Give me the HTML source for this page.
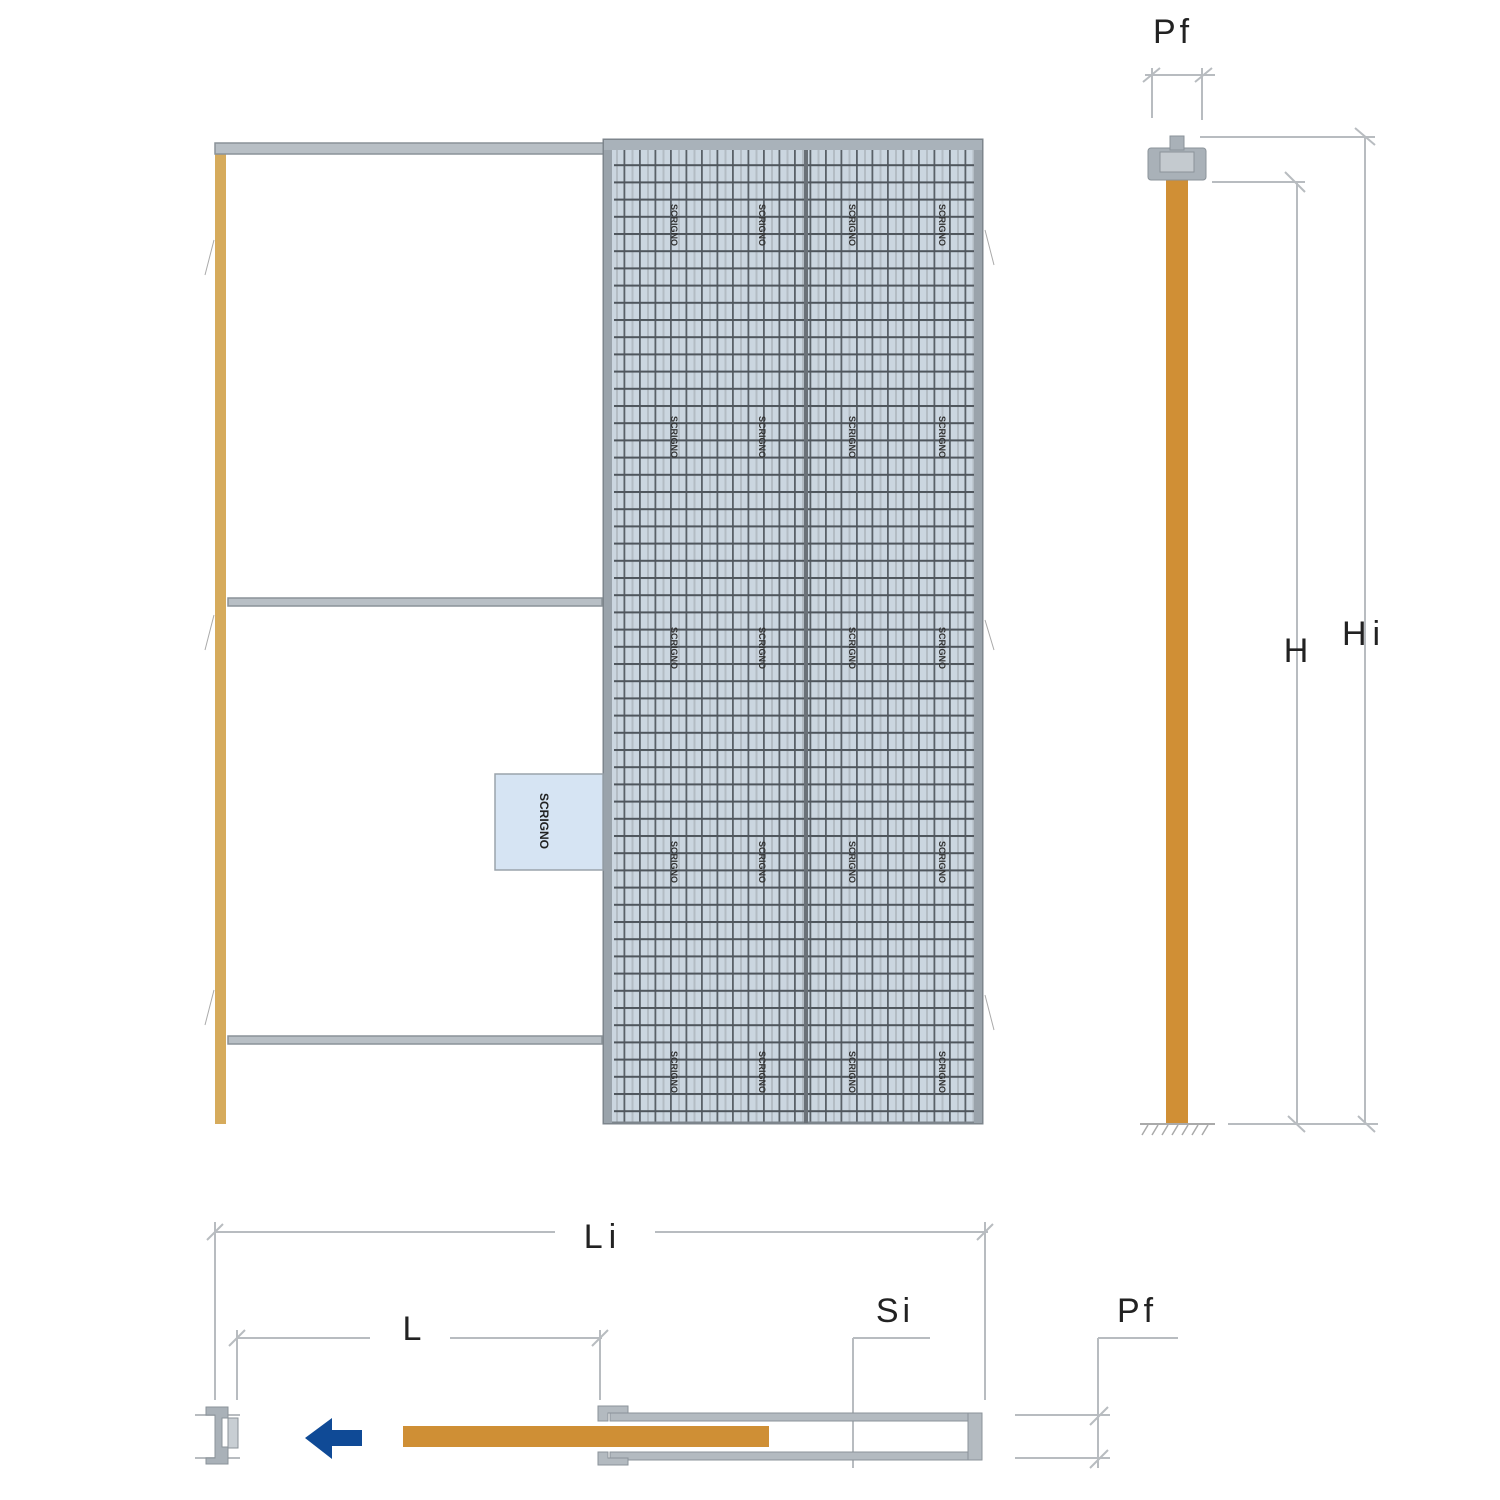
<!DOCTYPE html>
<html><head><style>html,body{margin:0;padding:0;background:#fff}svg{display:block}</style></head>
<body>
<svg width="1500" height="1500" viewBox="0 0 1500 1500" xmlns="http://www.w3.org/2000/svg" font-family="Liberation Sans, sans-serif">
<defs>
<pattern id="h" x="0" y="147" width="20" height="17.2" patternUnits="userSpaceOnUse">
<rect x="0" y="0" width="20" height="2" fill="#4f565d"/>
</pattern>
<pattern id="v" x="608" y="0" width="15.5" height="20" patternUnits="userSpaceOnUse">
<rect x="0" y="0" width="1.8" height="20" fill="#5a6168"/>
<rect x="8" y="0" width="2" height="20" fill="#b3bcc4"/>
</pattern>
</defs>
<rect x="215" y="150" width="11" height="974" fill="#d6ab5c"/>
<rect x="215" y="143" width="395" height="11" fill="#b8bfc5" stroke="#8a9298" stroke-width="1.5"/>
<rect x="228" y="598" width="374" height="8" fill="#b8bfc5" stroke="#8a9298" stroke-width="1.5"/>
<rect x="228" y="1036" width="374" height="8" fill="#b8bfc5" stroke="#8a9298" stroke-width="1.5"/>
<rect x="604" y="140" width="378" height="983" fill="#cbd6e0"/>
<rect x="604" y="140" width="378" height="983" fill="url(#v)"/>
<rect x="614" y="140" width="360" height="983" fill="url(#h)"/>
<rect x="604" y="140" width="378" height="983" fill="none" stroke="#7d858c" stroke-width="3"/>
<rect x="804" y="140" width="4" height="983" fill="#6a7178"/>
<rect x="604" y="140" width="8" height="983" fill="#9aa3ab"/>
<rect x="974" y="140" width="8" height="983" fill="#9aa3ab"/>
<rect x="604" y="140" width="378" height="10" fill="#a9b2ba"/>
<g fill="#333" font-size="9" font-weight="bold">
<g transform="translate(671,225) rotate(90)"><text text-anchor="middle">SCRIGNO</text></g>
<g transform="translate(759,225) rotate(90)"><text text-anchor="middle">SCRIGNO</text></g>
<g transform="translate(849,225) rotate(90)"><text text-anchor="middle">SCRIGNO</text></g>
<g transform="translate(939,225) rotate(90)"><text text-anchor="middle">SCRIGNO</text></g>
<g transform="translate(671,437) rotate(90)"><text text-anchor="middle">SCRIGNO</text></g>
<g transform="translate(759,437) rotate(90)"><text text-anchor="middle">SCRIGNO</text></g>
<g transform="translate(849,437) rotate(90)"><text text-anchor="middle">SCRIGNO</text></g>
<g transform="translate(939,437) rotate(90)"><text text-anchor="middle">SCRIGNO</text></g>
<g transform="translate(671,648) rotate(90)"><text text-anchor="middle">SCRIGNO</text></g>
<g transform="translate(759,648) rotate(90)"><text text-anchor="middle">SCRIGNO</text></g>
<g transform="translate(849,648) rotate(90)"><text text-anchor="middle">SCRIGNO</text></g>
<g transform="translate(939,648) rotate(90)"><text text-anchor="middle">SCRIGNO</text></g>
<g transform="translate(671,862) rotate(90)"><text text-anchor="middle">SCRIGNO</text></g>
<g transform="translate(759,862) rotate(90)"><text text-anchor="middle">SCRIGNO</text></g>
<g transform="translate(849,862) rotate(90)"><text text-anchor="middle">SCRIGNO</text></g>
<g transform="translate(939,862) rotate(90)"><text text-anchor="middle">SCRIGNO</text></g>
<g transform="translate(671,1072) rotate(90)"><text text-anchor="middle">SCRIGNO</text></g>
<g transform="translate(759,1072) rotate(90)"><text text-anchor="middle">SCRIGNO</text></g>
<g transform="translate(849,1072) rotate(90)"><text text-anchor="middle">SCRIGNO</text></g>
<g transform="translate(939,1072) rotate(90)"><text text-anchor="middle">SCRIGNO</text></g>
</g>
<rect x="495" y="774" width="108" height="96" fill="#d6e4f3" stroke="#9aa3ab" stroke-width="1.5"/>
<g transform="translate(540,821) rotate(90)"><text text-anchor="middle" font-size="12" font-weight="bold" fill="#222">SCRIGNO</text></g>
<g stroke="#aaa" stroke-width="1" fill="none">
<path d="M205 275 L214 240 M205 650 L214 615 M205 1025 L214 990 M985 230 L994 265 M985 620 L994 650 M985 995 L994 1030"/>
</g>
<g stroke="#b8bcc0" stroke-width="2" fill="none">
<path d="M1152 68 V118 M1202 68 V120 M1145 75 L1215 75 M1143 82 L1160 68 M1195 82 L1212 68"/>
<path d="M1200 137 H1375 M1365 137 V1125 M1355 128 L1375 145"/>
<path d="M1212 182 H1305 M1297 182 V1125 M1285 172 L1305 192"/>
<path d="M1228 1124 H1378 M1288 1116 L1305 1132 M1358 1116 L1375 1132"/>
</g>
<rect x="1166" y="175" width="22" height="948" fill="#d08f35"/>
<g fill="#a9b1b8" stroke="#8b939a" stroke-width="1">
<rect x="1148" y="148" width="58" height="32" rx="3"/>
<rect x="1170" y="136" width="14" height="14"/>
<rect x="1160" y="152" width="34" height="20" fill="#c4cacf"/>
</g>
<path d="M1140 1124 H1215" stroke="#aaa" stroke-width="2"/>
<path d="M1142 1135 l6 -10 M1152 1135 l6 -10 M1162 1135 l6 -10 M1172 1135 l6 -10 M1182 1135 l6 -10 M1192 1135 l6 -10 M1202 1135 l6 -10" stroke="#aaa" stroke-width="1.5"/>
<text x="1173" y="43" font-size="34" text-anchor="middle" fill="#222" letter-spacing="4">Pf</text>
<text x="1296" y="662" font-size="34" text-anchor="middle" fill="#222">H</text>
<text x="1364" y="645" font-size="34" text-anchor="middle" fill="#222" letter-spacing="6">Hi</text>
<g stroke="#b8bcc0" stroke-width="2" fill="none">
<path d="M215 1232 H555 M655 1232 H988 M215 1222 V1400 M985 1222 V1400 M207 1240 L223 1224 M977 1240 L993 1224"/>
<path d="M237 1338 H370 M450 1338 H602 M237 1330 V1400 M600 1330 V1400 M229 1346 L245 1330 M592 1346 L608 1330"/>
<path d="M853 1338 H930 M853 1338 V1468"/>
<path d="M1098 1338 H1178 M1098 1338 V1468 M1015 1415 H1110 M1015 1458 H1110 M1090 1425 L1108 1407 M1090 1468 L1108 1450"/>
<path d="M195 1415 H240 M195 1458 H240"/>
</g>
<text x="603" y="1248" font-size="34" text-anchor="middle" fill="#222" letter-spacing="6">Li</text>
<text x="412" y="1340" font-size="34" text-anchor="middle" fill="#222">L</text>
<text x="895" y="1322" font-size="34" text-anchor="middle" fill="#222" letter-spacing="4">Si</text>
<text x="1137" y="1322" font-size="34" text-anchor="middle" fill="#222" letter-spacing="4">Pf</text>
<path d="M206 1407 H228 V1418 H222 V1447 H228 V1464 H206 V1458 H215 V1415 H206 Z" fill="#a9b1b8" stroke="#8b939a"/>
<rect x="228" y="1418" width="10" height="30" fill="#c8ced3" stroke="#8b939a"/>
<path d="M305 1438 L332 1418 V1430 H362 V1446 H332 V1459 Z" fill="#0f4a96"/>
<rect x="403" y="1426" width="366" height="21" fill="#cf8f35"/>
<g fill="#b3bac0" stroke="#8b939a" stroke-width="1">
<rect x="610" y="1413" width="370" height="8"/>
<rect x="610" y="1452" width="370" height="8"/>
<rect x="968" y="1413" width="14" height="47"/>
<path d="M598 1406 H628 V1413 H608 V1421 H598 Z"/>
<path d="M598 1465 H628 V1458 H608 V1452 H598 Z"/>
</g>
</svg>
</body></html>
